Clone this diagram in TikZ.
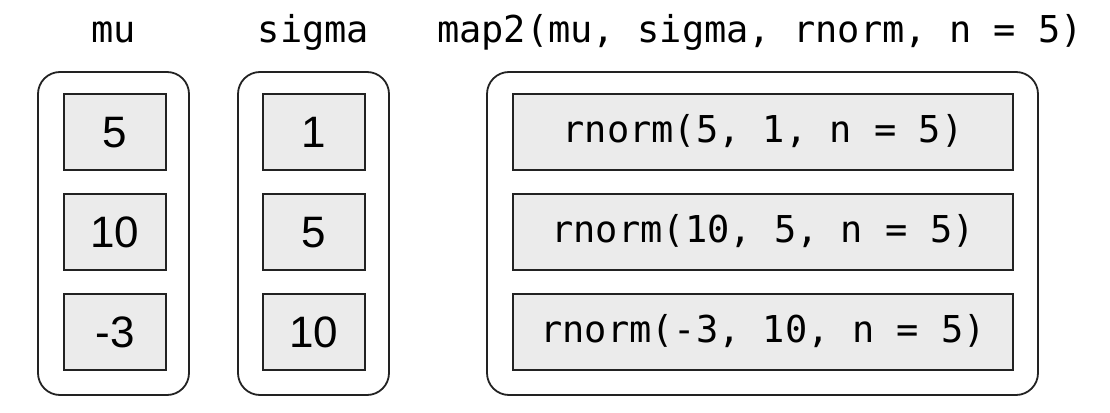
\documentclass[tikz,border=0pt]{standalone}
\usepackage{fontspec}
\setmainfont{Liberation Sans}
\setmonofont{DejaVu Sans Mono}
\newcommand{\monotext}{\ttfamily\fontsize{37}{44}\selectfont}
\newcommand{\digittext}{\rmfamily\fontsize{44}{50}\selectfont}
\definecolor{edge}{HTML}{222222}
\definecolor{cellfill}{HTML}{EBEBEB}
\tikzset{
  outerbox/.style={draw=edge, line width=1.8pt, rounded corners=22pt,
    minimum height=323pt, inner sep=0pt},
  cell/.style={draw=edge, line width=1.8pt, fill=cellfill, inner sep=0pt,
    minimum height=76pt},
  numcell/.style={cell, minimum width=102pt, font=\digittext,
    text height=31.5pt, text depth=0pt},
  callcell/.style={cell, minimum width=500pt, font=\monotext,
    text height=20.5pt, text depth=0pt},
  heading/.style={font=\monotext, anchor=base, inner sep=0pt},
}
\begin{document}
\begin{tikzpicture}[x=1pt, y=-1pt]
  \useasboundingbox (0,0) rectangle (1110,412);

  % column headings
  \node[heading] (hmu) at (113.5,43) {mu};
  \node[heading] (hsigma) at (313.5,43) {sigma};
  \node[heading] (hmap) at (760,43) {map2(mu, sigma, rnorm, n = 5)};

  % rounded containers
  \node[outerbox, minimum width=151pt] (mu) at (113.5,233.5) {};
  \node[outerbox, minimum width=151pt] (sigma) at (313.5,233.5) {};
  \node[outerbox, minimum width=551pt] (map) at (762.5,233.5) {};

  % mu values
  \node[numcell] (mu1) at (115,132) {5};
  \node[numcell] (mu2) at (115,232) {10};
  \node[numcell] (mu3) at (115,332) {-3};

  % sigma values
  \node[numcell] (sg1) at (314,132) {1};
  \node[numcell] (sg2) at (314,232) {5};
  \node[numcell] (sg3) at (314,332) {10};

  % resulting calls
  \node[callcell] (call1) at (763,132) {rnorm(5, 1, n = 5)};
  \node[callcell] (call2) at (763,232) {rnorm(10, 5, n = 5)};
  \node[callcell] (call3) at (763,332) {rnorm(-3, 10, n = 5)};
\end{tikzpicture}
\end{document}
